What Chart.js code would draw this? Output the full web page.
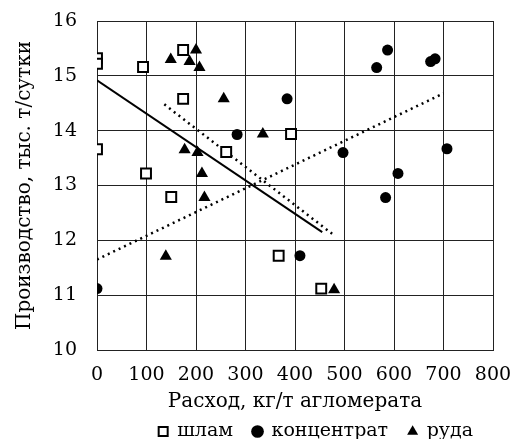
<!DOCTYPE html>
<html>
<head>
<meta charset="utf-8">
<script src="https://cdn.jsdelivr.net/npm/chart.js@4"></script>
<style>
  html, body { margin: 0; padding: 0; background: #fff; }
  #wrap { width: 511px; height: 439px; }
</style>
</head>
<body>
<div id="wrap"><canvas id="chart" width="511" height="439"></canvas></div>
<script>
// шлам (open squares)
const slimeX = [0, 0, 93, 174, 174, 0, 99, 150, 261, 392, 367, 453];
const slimeY = [15.32, 15.22, 15.16, 15.47, 14.58, 13.66, 13.22, 12.79, 13.61, 13.94, 11.72, 11.12];

// концентрат (filled circles)
const concX = [0, 283, 384, 565, 587, 674, 683, 497, 608, 707, 583, 410];
const concY = [11.12, 13.93, 14.58, 15.15, 15.47, 15.26, 15.31, 13.6, 13.22, 13.67, 12.78, 11.72];

// руда (filled triangles)
const oreX = [149, 200, 187, 207, 256, 177, 203, 212, 217, 335, 139, 479];
const oreY = [15.3, 15.47, 15.26, 15.15, 14.58, 13.65, 13.6, 13.22, 12.78, 13.94, 11.71, 11.1];

// linear trend lines (end points)
const slimeTrendX = [0, 455];
const slimeTrendY = [14.92, 12.15];
const concTrendX = [0, 700];
const concTrendY = [11.65, 14.68];
const oreTrendX = [136, 475];
const oreTrendY = [14.48, 12.12];

const xTicks = [0, 100, 200, 300, 400, 500, 600, 700, 800];
const yTicks = [10, 11, 12, 13, 14, 15, 16];

const toPts = (xs, ys) => xs.map((x, i) => ({x: x, y: ys[i]}));

const serif = "'DejaVu Serif', 'Liberation Serif', serif";

new Chart(document.getElementById('chart'), {
  type: 'scatter',
  data: {
    datasets: [
      {
        label: 'шлам', data: toPts(slimeX, slimeY),
        pointStyle: 'rect', pointRadius: 7, borderWidth: 2,
        borderColor: '#000', backgroundColor: '#fff'
      },
      {
        label: 'концентрат', data: toPts(concX, concY),
        pointStyle: 'circle', pointRadius: 5.5, borderWidth: 0,
        borderColor: '#000', backgroundColor: '#000'
      },
      {
        label: 'руда', data: toPts(oreX, oreY),
        pointStyle: 'triangle', pointRadius: 7, borderWidth: 0,
        borderColor: '#000', backgroundColor: '#000'
      },
      {
        label: 'trend-slime', type: 'line', data: toPts(slimeTrendX, slimeTrendY),
        borderColor: '#000', borderWidth: 2, pointRadius: 0, fill: false
      },
      {
        label: 'trend-conc', type: 'line', data: toPts(concTrendX, concTrendY),
        borderColor: '#000', borderWidth: 2.5, borderDash: [2, 4], pointRadius: 0, fill: false
      },
      {
        label: 'trend-ore', type: 'line', data: toPts(oreTrendX, oreTrendY),
        borderColor: '#000', borderWidth: 2.5, borderDash: [2, 4], pointRadius: 0, fill: false
      }
    ]
  },
  options: {
    responsive: false,
    animation: false,
    layout: { padding: { top: 21, right: 18, bottom: -12, left: 0 } },
    plugins: {
      tooltip: { enabled: false },
      legend: {
        position: 'bottom',
        align: 'end',
        labels: {
          filter: item => !item.text.startsWith('trend'),
          usePointStyle: true,
          boxWidth: 9, boxHeight: 9,
          padding: 20,
          color: '#000',
          font: { family: serif, size: 19 }
        }
      }
    },
    scales: {
      x: {
        type: 'linear', min: 0, max: 800,
        afterBuildTicks: s => { s.ticks = xTicks.map(v => ({value: v})); },
        afterFit: s => { s.height = 52; s.paddingLeft = 0; s.paddingRight = 0; },
        grid: { color: '#222', lineWidth: 1, drawTicks: false },
        border: { color: '#222' },
        ticks: { color: '#000', padding: 14, font: { family: serif, size: 19 } },
        title: {
          display: true, text: 'Расход, кг/т агломерата', color: '#000',
          font: { family: serif, size: 20 }, padding: { top: 0, bottom: -12 }
        }
      },
      y: {
        type: 'linear', min: 10, max: 16,
        afterBuildTicks: s => { s.ticks = yTicks.map(v => ({value: v})); },
        afterFit: s => { s.width = 97; s.paddingTop = 0; s.paddingBottom = 0; },
        grid: { color: '#222', lineWidth: 1, drawTicks: false },
        border: { color: '#222' },
        ticks: { color: '#000', padding: 20, font: { family: serif, size: 19 } },
        title: {
          display: true, text: 'Производство, тыс. т/сутки', color: '#000',
          font: { family: serif, size: 20 }, padding: { top: 13, bottom: 0 }
        }
      }
    }
  }
});
</script>
</body>
</html>
